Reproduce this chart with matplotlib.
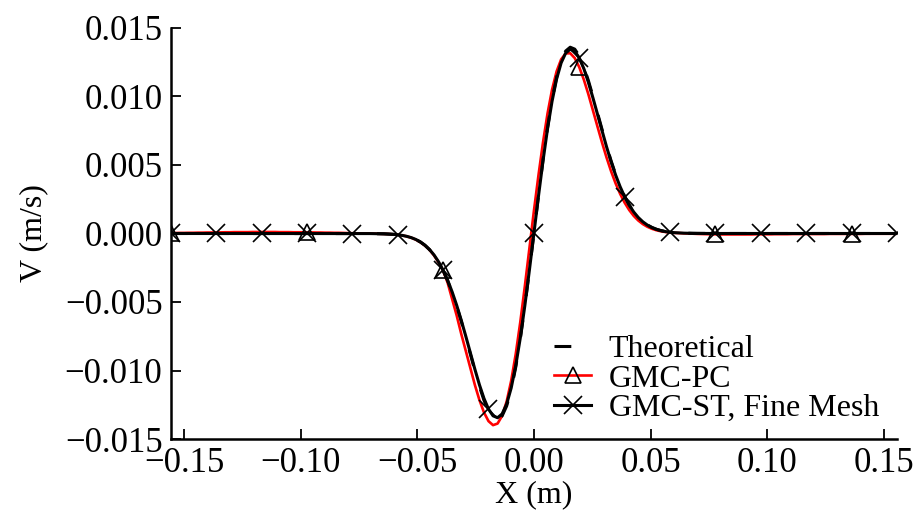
import numpy as np
import matplotlib
matplotlib.use("Agg")
import matplotlib.pyplot as plt
from matplotlib.ticker import FuncFormatter, MultipleLocator

plt.rcParams['font.family'] = ['Liberation Serif', 'DejaVu Serif']
plt.rcParams['font.size'] = 23

# mesh positions (m), 161 nodes across the domain
x_mesh = np.linspace(-0.1557, 0.1557, 161)

# theoretical velocity (m/s) for x > 0; the profile is antisymmetric
theory_right = [0.002731, 0.005340, 0.007714, 0.009757, 0.011398, 0.012590, 0.013318,
                0.013596, 0.013457, 0.012959, 0.012170, 0.011165, 0.010020, 0.008806,
                0.007584, 0.006405, 0.005308, 0.004318, 0.003451, 0.002708, 0.002088,
                0.001582, 0.001179, 0.000863, 0.000622, 0.000441, 0.000307, 0.000210,
                0.000142, 0.000094, 0.000061, 0.000039, 0.000025, 0.000016, 0.000010,
                0.000006, 0.000003, 0.000002, 0.000001, 0.000001,
                0, 0, 0, 0, 0, 0, 0, 0, 0, 0, 0, 0, 0, 0, 0, 0, 0, 0, 0, 0,
                0, 0, 0, 0, 0, 0, 0, 0, 0, 0, 0, 0, 0, 0, 0, 0, 0, 0, 0, 0]
theoretical = [-v for v in theory_right[::-1]] + [0.0] + theory_right

# GMC-ST, fine mesh
st_right = [0.002701, 0.005281, 0.007629, 0.009650, 0.011272, 0.012451, 0.013171,
            0.013446, 0.013308, 0.012816, 0.012036, 0.011042, 0.009909, 0.008709,
            0.007500, 0.006335, 0.005249, 0.004271, 0.003413, 0.002678, 0.002065,
            0.001565, 0.001166, 0.000854, 0.000615, 0.000436, 0.000304, 0.000208,
            0.000140, 0.000093, 0.000060, 0.000039, 0.000025, 0.000015, 0.000010,
            0.000006, 0.000003, 0.000002, 0.000001, 0.000001,
            0, 0, 0, 0, 0, 0, 0, 0, 0, 0, 0, 0, 0, 0, 0, 0, 0, 0, 0, 0,
            0, 0, 0, 0, 0, 0, 0, 0, 0, 0, 0, 0, 0, 0, 0, 0, 0, 0, 0, 0]
gmc_st = [-v for v in st_right[::-1]] + [0.0] + st_right

# GMC-PC, left half (x < 0) and right half (x >= 0)
pc_left = [0.00003, 0.00003, 0.00004, 0.00004, 0.00005, 0.00005, 0.00006, 0.00006,
           0.00007, 0.00007, 0.00008, 0.00008, 0.00009, 0.00009, 0.00010, 0.00010,
           0.00010, 0.00010, 0.00011, 0.00011, 0.00011, 0.00011, 0.00011, 0.00011,
           0.00010, 0.00010, 0.00010, 0.00009, 0.00009, 0.00009, 0.00008, 0.00008,
           0.00007, 0.00007, 0.00006, 0.00006, 0.00005, 0.00005, 0.00004, 0.00003,
           0.00002, 0.00001, 0.00001, 0.0, -0.000005, -0.00001, -0.00002, -0.00003,
           -0.00004, -0.00006, -0.00009, -0.00014, -0.00021, -0.00031, -0.00045,
           -0.00064, -0.00088, -0.00119, -0.00160, -0.00210, -0.00270, -0.00360,
           -0.00480, -0.00600, -0.007333, -0.008580, -0.009839, -0.011054, -0.012152,
           -0.013060, -0.013696, -0.013989, -0.013873, -0.013305, -0.012260,
           -0.010745, -0.008794, -0.006470, -0.003864, -0.001086]
pc_right = [0.001641, 0.004232, 0.006636, 0.008752, 0.010501, 0.011828, 0.012708,
            0.013142, 0.013157, 0.012801, 0.012135, 0.011231, 0.010164, 0.009003,
            0.007813, 0.006648, 0.005550, 0.004546, 0.003658, 0.002890, 0.002244,
            0.001711, 0.001283, 0.000946, 0.000686, 0.000489, 0.000343, 0.000236,
            0.000160, 0.000107, 0.000070, 0.000045, 0.000029, 0.00001, -0.00001,
            -0.00002, -0.00003, -0.00004, -0.00005, -0.00006, -0.00006,
            -0.00007, -0.00007, -0.00007, -0.00007, -0.00007, -0.00007, -0.00007, -0.00007,
            -0.00006, -0.00006, -0.00006, -0.00006,
            -0.00005, -0.00005, -0.00005, -0.00005,
            -0.00004, -0.00004, -0.00004, -0.00004, -0.00004, -0.00004, -0.00004, -0.00004,
            -0.00003, -0.00003, -0.00003, -0.00003, -0.00003, -0.00003, -0.00003, -0.00003,
            -0.00002, -0.00002, -0.00002, -0.00002, -0.00002, -0.00002, -0.00002, -0.00002]
gmc_pc = pc_left + pc_right

assert len(theoretical) == len(gmc_st) == len(gmc_pc) == len(x_mesh), \
    (len(theoretical), len(gmc_st), len(gmc_pc))

fig = plt.figure(figsize=(9.16, 5.23), dpi=100)
ax = fig.add_axes([0.1864, 0.1606, 0.7929, 0.7859])

ax.plot(x_mesh, theoretical, color='black', lw=2.2, linestyle=(0, (5.5, 8)),
        label='Theoretical', zorder=3)
ax.plot(x_mesh, gmc_pc, color='red', lw=1.9, marker='^', markevery=30,
        markersize=11, markerfacecolor='none', markeredgecolor='black',
        markeredgewidth=1.2, label='GMC-PC', zorder=2)
ax.plot(x_mesh, gmc_st, color='black', lw=2.2, marker='x', markevery=10,
        markersize=13, markeredgewidth=1.2, label='GMC-ST, Fine Mesh', zorder=4)

ax.set_xlim(-0.1557, 0.1557)
ax.set_ylim(-0.015, 0.015)
ax.xaxis.set_major_locator(MultipleLocator(0.05))
ax.yaxis.set_major_locator(MultipleLocator(0.005))
ax.xaxis.set_major_formatter(FuncFormatter(lambda v, p: f"{v:.2f}".replace('-', '\u2212')))
ax.yaxis.set_major_formatter(FuncFormatter(lambda v, p: f"{v:.3f}".replace('-', '\u2212')))

for side in ['top', 'right']:
    ax.spines[side].set_visible(False)
for side in ['left', 'bottom']:
    ax.spines[side].set_linewidth(1.8)
ax.tick_params(direction='in', length=7, width=1.3, pad=6, labelsize=25)

ax.set_xlabel('X (m)', labelpad=0)
ax.set_ylabel('V (m/s)', labelpad=12)

ax.legend(loc='lower right', bbox_to_anchor=(0.993, 0.008), frameon=False,
          handlelength=1.15, handletextpad=0.55, labelspacing=0.0,
          numpoints=1, borderaxespad=0)

fig.savefig('out.png', dpi=100)
